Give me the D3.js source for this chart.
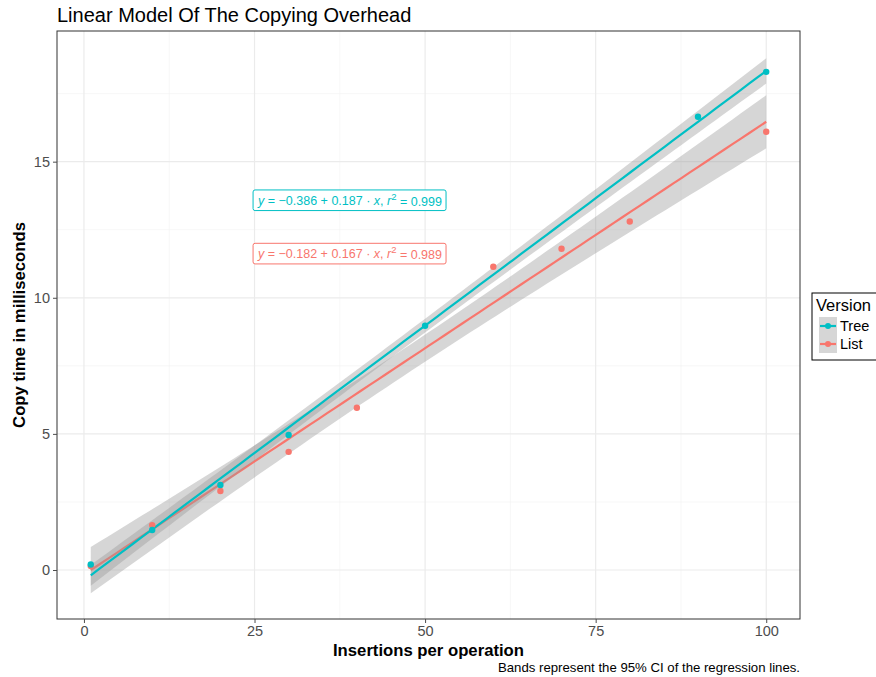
<!DOCTYPE html>
<html>
<head>
<meta charset="utf-8">
<script src="https://cdn.jsdelivr.net/npm/d3@7"></script>
<style>
  body { margin: 0; background: #fff; }
  svg text { font-family: "Liberation Sans", Arial, Helvetica, sans-serif; }
</style>
</head>
<body>
<svg id="chart" width="876" height="677"></svg>
<script>
// insertions per operation vs copy time (ms)
const treeX = [1, 10, 20, 30, 50, 90, 100];
const treeY = [0.2, 1.47, 3.12, 4.96, 8.97, 16.65, 18.3];
const listX = [1, 10, 20, 30, 40, 60, 70, 80, 100];
const listY = [0.15, 1.65, 2.9, 4.34, 5.96, 11.14, 11.8, 12.8, 16.1];

const xTicks = [0, 25, 50, 75, 100];
const yTicks = [0, 5, 10, 15];
const xMinor = [12.5, 37.5, 62.5, 87.5];
const yMinor = [2.5, 7.5, 12.5, 17.5];

const series = [
  {name: 'List', xs: listX, ys: listY, color: '#F8766D',
   label: ['−0.182', '0.167', '0.989'], at: [39, 11.62]},
  {name: 'Tree', xs: treeX, ys: treeY, color: '#00BFC4',
   label: ['−0.386', '0.187', '0.999'], at: [39, 13.58]}
];
const legendOrder = ['Tree', 'List'];
// 97.5% t quantiles by degrees of freedom
const tq = {5: 2.571, 6: 2.447, 7: 2.365};

const margin = {left: 57, right: 76, top: 31, bottom: 58};
const W = 876, H = 677;
const pw = W - margin.left - margin.right;
const ph = H - margin.top - margin.bottom;

const x = d3.scaleLinear().domain([-3.95, 104.95]).range([0, pw]);
const y = d3.scaleLinear().domain([-1.8, 19.8]).range([ph, 0]);

function fit(xs, ys) {
  const n = xs.length;
  const mx = d3.mean(xs), my = d3.mean(ys);
  let sxx = 0, sxy = 0;
  xs.forEach((v, i) => { sxx += (v - mx) ** 2; sxy += (v - mx) * (ys[i] - my); });
  const b = sxy / sxx, a = my - b * mx;
  let sse = 0;
  xs.forEach((v, i) => { sse += (ys[i] - a - b * v) ** 2; });
  const s = Math.sqrt(sse / (n - 2));
  const t = tq[n - 2];
  const lo = d3.min(xs), hi = d3.max(xs);
  const grid = d3.range(0, 81).map(k => lo + (hi - lo) * k / 80);
  return grid.map(g => {
    const f = a + b * g;
    const se = s * Math.sqrt(1 / n + (g - mx) ** 2 / sxx);
    return {x: g, y: f, lo: f - t * se, hi: f + t * se};
  });
}

const svg = d3.select('#chart');
const g = svg.append('g').attr('transform', `translate(${margin.left},${margin.top})`);

// grid
g.selectAll('.vminor').data(xMinor).join('line')
  .attr('x1', d => x(d)).attr('x2', d => x(d)).attr('y1', 0).attr('y2', ph)
  .attr('stroke', '#f2f2f2').attr('stroke-width', 0.6);
g.selectAll('.hminor').data(yMinor).join('line')
  .attr('y1', d => y(d)).attr('y2', d => y(d)).attr('x1', 0).attr('x2', pw)
  .attr('stroke', '#f2f2f2').attr('stroke-width', 0.6);
g.selectAll('.vmajor').data(xTicks).join('line')
  .attr('x1', d => x(d)).attr('x2', d => x(d)).attr('y1', 0).attr('y2', ph)
  .attr('stroke', '#ebebeb').attr('stroke-width', 1.2);
g.selectAll('.hmajor').data(yTicks).join('line')
  .attr('y1', d => y(d)).attr('y2', d => y(d)).attr('x1', 0).attr('x2', pw)
  .attr('stroke', '#ebebeb').attr('stroke-width', 1.2);

// smooth: ribbon then line for each group
const area = d3.area().x(d => x(d.x)).y0(d => y(d.lo)).y1(d => y(d.hi));
const line = d3.line().x(d => x(d.x)).y(d => y(d.y));
series.forEach(s => {
  const f = fit(s.xs, s.ys);
  g.append('path').datum(f).attr('d', area).attr('fill', '#999999').attr('fill-opacity', 0.4);
  g.append('path').datum(f).attr('d', line).attr('fill', 'none')
    .attr('stroke', s.color).attr('stroke-width', 2.2);
});

// points
series.forEach(s => {
  g.append('g').selectAll('circle').data(s.xs.map((v, i) => [v, s.ys[i]])).join('circle')
    .attr('cx', d => x(d[0])).attr('cy', d => y(d[1])).attr('r', 3.2)
    .attr('fill', s.color);
});

// equation labels
series.forEach(s => {
  const t = g.append('text')
    .attr('x', x(s.at[0])).attr('y', y(s.at[1])).attr('dy', '0.35em')
    .attr('text-anchor', 'middle').attr('font-size', 12.5).attr('fill', s.color);
  t.append('tspan').attr('font-style', 'italic').text('y');
  t.append('tspan').text(` = ${s.label[0]} + ${s.label[1]} · `);
  t.append('tspan').attr('font-style', 'italic').text('x');
  t.append('tspan').text(',  ');
  t.append('tspan').attr('font-style', 'italic').text('r');
  t.append('tspan').attr('font-size', 9.5).attr('dy', '-0.5em').text('2');
  t.append('tspan').attr('font-size', 12.5).attr('dy', '0.45em').text(` = ${s.label[2]}`);
  const bb = t.node().getBBox();
  g.insert('rect', () => t.node())
    .attr('x', bb.x - 4).attr('y', bb.y - 1).attr('width', bb.width + 8).attr('height', bb.height + 3)
    .attr('rx', 2).attr('fill', '#fff').attr('stroke', s.color).attr('stroke-width', 1);
});

// panel border
g.append('rect').attr('width', pw).attr('height', ph)
  .attr('fill', 'none').attr('stroke', '#333333').attr('stroke-width', 1);

// axes
const xAxis = g.append('g').attr('transform', `translate(0,${ph})`)
  .call(d3.axisBottom(x).tickValues(xTicks).tickSize(4).tickPadding(3));
const yAxis = g.append('g')
  .call(d3.axisLeft(y).tickValues(yTicks).tickSize(4).tickPadding(3));
[xAxis, yAxis].forEach(a => {
  a.select('.domain').remove();
  a.selectAll('.tick line').attr('stroke', '#4d4d4d');
  a.selectAll('.tick text').attr('fill', '#4d4d4d').attr('font-size', 14.5)
    .style('font-family', '"Liberation Sans", Arial, sans-serif');
});

// titles
svg.append('text').attr('x', 57).attr('y', 22).attr('font-size', 20).attr('fill', '#000')
  .text('Linear Model Of The Copying Overhead');
svg.append('text').attr('x', margin.left + pw / 2).attr('y', 656).attr('text-anchor', 'middle')
  .attr('font-size', 16.7).attr('font-weight', 'bold').text('Insertions per operation');
svg.append('text').attr('transform', `translate(25,${margin.top + ph / 2}) rotate(-90)`)
  .attr('text-anchor', 'middle').attr('font-size', 16.7).attr('font-weight', 'bold')
  .text('Copy time in milliseconds');
svg.append('text').attr('x', 800).attr('y', 672).attr('text-anchor', 'end')
  .attr('font-size', 13.2).text('Bands represent the 95% CI of the regression lines.');

// legend
const lg = svg.append('g').attr('transform', 'translate(812,293)');
lg.append('rect').attr('width', 70).attr('height', 67).attr('fill', '#fff')
  .attr('stroke', '#000').attr('stroke-width', 1);
lg.append('text').attr('x', 4).attr('y', 18).attr('font-size', 16.5).text('Version');
legendOrder.forEach((name, i) => {
  const s = series.find(d => d.name === name);
  const k = lg.append('g').attr('transform', `translate(7,${24 + i * 18})`);
  k.append('rect').attr('width', 18).attr('height', 18).attr('fill', '#d6d6d6');
  k.append('line').attr('x1', 1).attr('x2', 17).attr('y1', 9).attr('y2', 9)
    .attr('stroke', s.color).attr('stroke-width', 2.2);
  k.append('circle').attr('cx', 9).attr('cy', 9).attr('r', 3).attr('fill', s.color);
  k.append('text').attr('x', 21).attr('y', 14).attr('font-size', 14.5).text(name);
});
</script>
</body>
</html>
